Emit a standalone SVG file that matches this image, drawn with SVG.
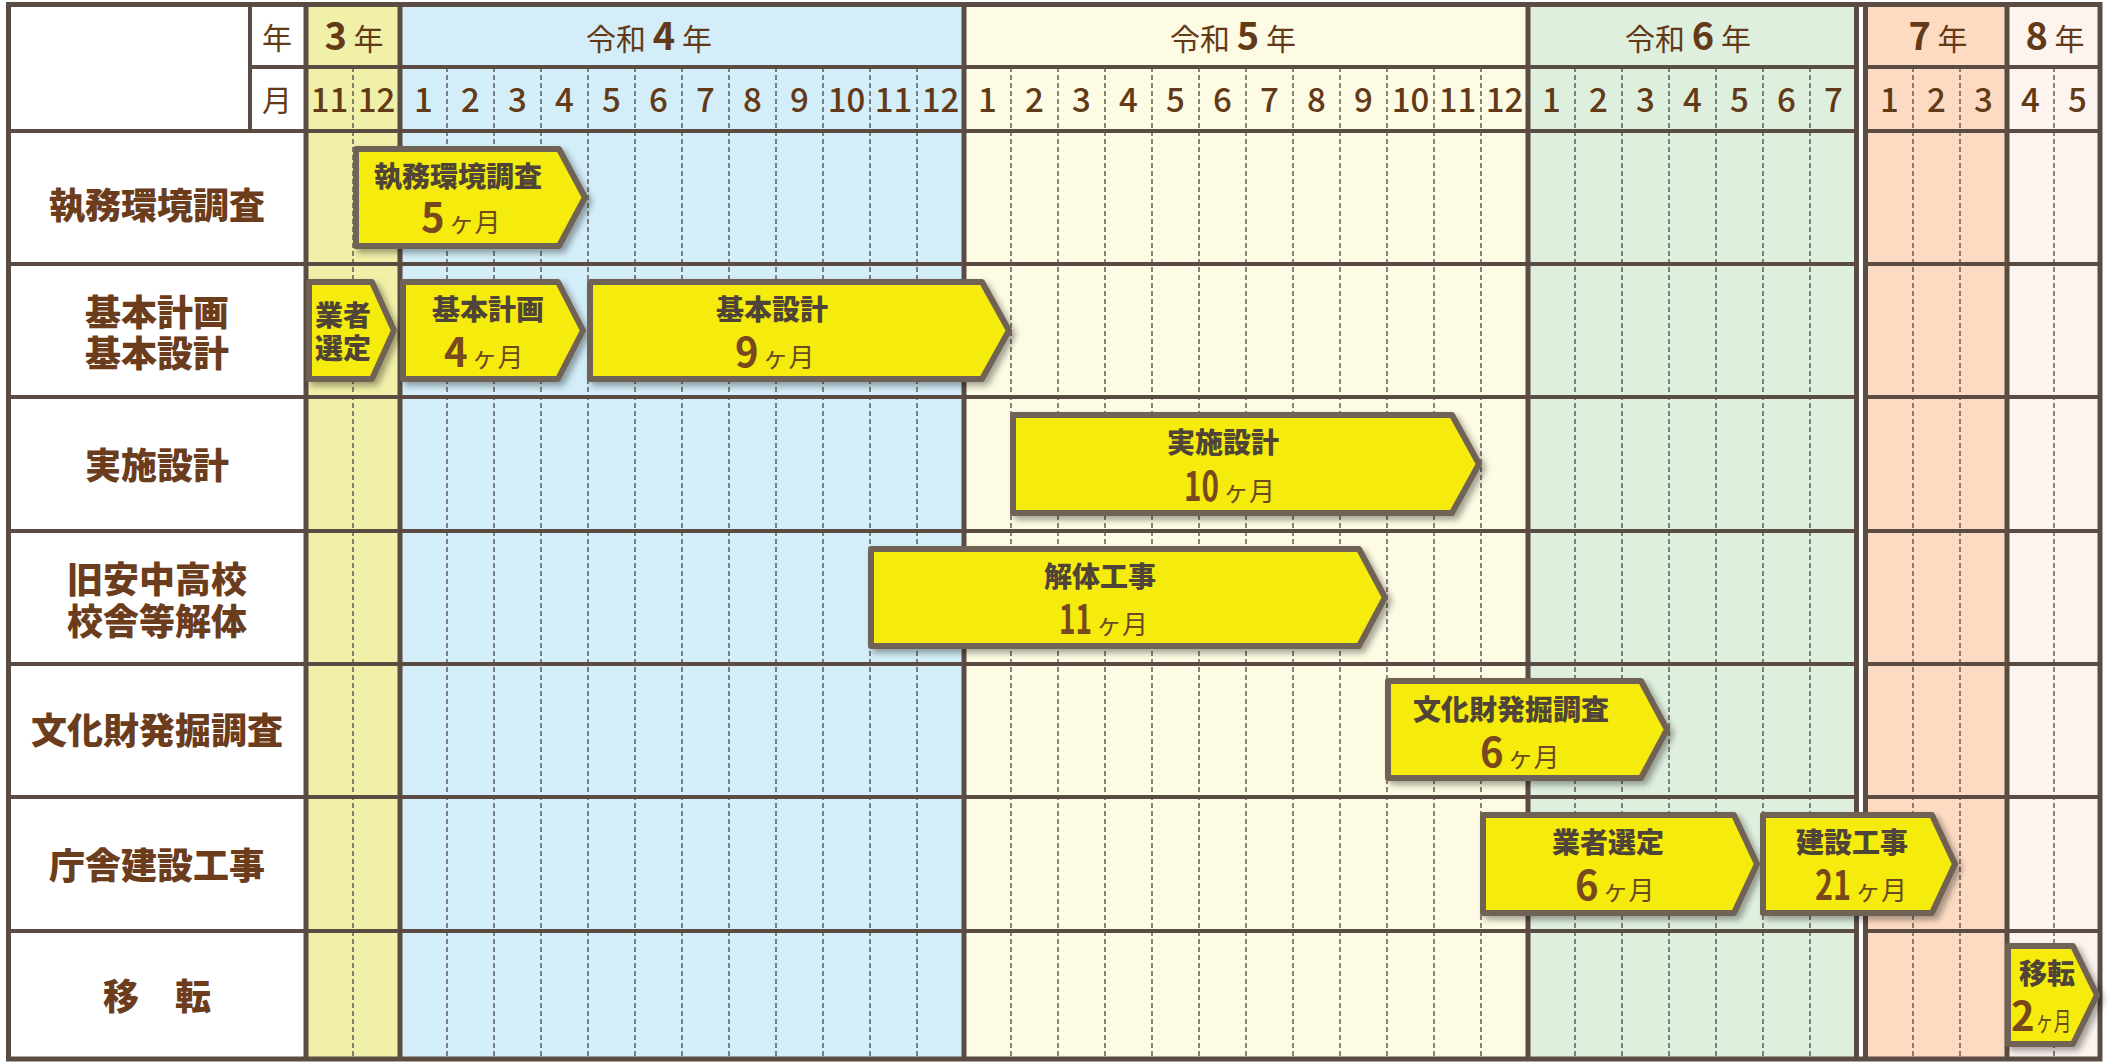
<svg xmlns="http://www.w3.org/2000/svg" width="2111" height="1064" viewBox="0 0 2111 1064">
<defs>
<style>
.ln{stroke:#5b4c43;fill:none}
.thick{stroke-width:5}
.row{stroke-width:4}
.dash{stroke:#57514e;stroke-width:1.4;stroke-dasharray:5 3;fill:none}
text{font-family:"Noto Sans CJK JP","Noto Sans",sans-serif}
.hd{font-size:30px;fill:#633a18;font-weight:400}
.yn{font-size:38px;font-weight:700}
.mo{font-size:33px;fill:#633a18;text-anchor:middle;font-weight:500}
.lab{font-size:36px;font-weight:900;fill:#6b3d1c;text-anchor:middle}
.bar{fill:#f5eb0b;stroke:#6f6354;stroke-width:6;stroke-linejoin:round;filter:url(#sh)}
.bt{font-size:28px;font-weight:900;fill:#4f4437;text-anchor:middle}
.bn{font-size:40px;font-weight:700;fill:#7a481d}
.bu{font-size:26px;font-weight:400;fill:#6b4a22}
</style>
<filter id="sh" x="-10%" y="-20%" width="130%" height="150%">
<feDropShadow dx="4" dy="4" stdDeviation="3" flood-color="#000" flood-opacity="0.35"/>
</filter>
</defs>

<g id="background">
<rect x="0" y="0" width="2111" height="1064" fill="#ffffff"/>
<rect x="306" y="5" width="94" height="1054" fill="#f1f0a9"/>
<rect x="400" y="5" width="564" height="1054" fill="#d3eef9"/>
<rect x="964" y="5" width="564" height="1054" fill="#fefbe4"/>
<rect x="1528" y="5" width="329" height="1054" fill="#dfefde"/>
<rect x="1866" y="5" width="141" height="1054" fill="#fddbc3"/>
<rect x="2007" y="5" width="93" height="1054" fill="#fdf4ef"/>
</g>

<g id="grid">
<g class="dash">
<path d="M353 67V1058M447 67V1058M494 67V1058M541 67V1058M588 67V1058M635 67V1058M682 67V1058M729 67V1058M776 67V1058M823 67V1058M870 67V1058M917 67V1058"/>
<path d="M1011 67V1058M1058 67V1058M1105 67V1058M1152 67V1058M1199 67V1058M1246 67V1058M1293 67V1058M1340 67V1058M1387 67V1058M1434 67V1058M1481 67V1058"/>
<path d="M1575 67V1058M1622 67V1058M1669 67V1058M1716 67V1058M1763 67V1058M1810 67V1058M1913 67V1058M1960 67V1058M2054 67V1058"/>
</g>
<path class="ln row" d="M250 67H2100M8 131H2100M8 264H2100M8 397H2100M8 531H2100M8 664H2100M8 797H2100M8 931H2100"/>
<path class="ln row" d="M250 5V131"/>
<rect x="1859" y="5" width="4.5" height="1054" fill="#ffffff"/>
<path class="ln thick" d="M306 5V1059M400 5V1059M964 5V1059M1528 5V1059M1856.5 5V1059M1865.5 5V1059M2007 5V1059"/>
<rect class="ln thick" x="8.5" y="4.5" width="2091.5" height="1054.5"/>
</g>

<g id="header">
<text class="hd" x="277" y="49" text-anchor="middle">年</text>
<text class="hd" x="277" y="111" text-anchor="middle">月</text>
<text class="hd" x="354" y="50" text-anchor="middle"><tspan class="yn">3</tspan> 年</text>
<text class="hd" x="649" y="50" text-anchor="middle">令和 <tspan class="yn">4</tspan> 年</text>
<text class="hd" x="1233" y="50" text-anchor="middle">令和 <tspan class="yn">5</tspan> 年</text>
<text class="hd" x="1688" y="50" text-anchor="middle">令和 <tspan class="yn">6</tspan> 年</text>
<text class="hd" x="1938" y="50" text-anchor="middle"><tspan class="yn">7</tspan> 年</text>
<text class="hd" x="2055" y="50" text-anchor="middle"><tspan class="yn">8</tspan> 年</text>
<g id="months">
<text class="mo" x="329.5" y="112">11</text>
<text class="mo" x="376.5" y="112">12</text>
<text class="mo" x="423.5" y="112">1</text>
<text class="mo" x="470.5" y="112">2</text>
<text class="mo" x="517.5" y="112">3</text>
<text class="mo" x="564.5" y="112">4</text>
<text class="mo" x="611.5" y="112">5</text>
<text class="mo" x="658.5" y="112">6</text>
<text class="mo" x="705.5" y="112">7</text>
<text class="mo" x="752.5" y="112">8</text>
<text class="mo" x="799.5" y="112">9</text>
<text class="mo" x="846.5" y="112">10</text>
<text class="mo" x="893.5" y="112">11</text>
<text class="mo" x="940.5" y="112">12</text>
<text class="mo" x="987.5" y="112">1</text>
<text class="mo" x="1034.5" y="112">2</text>
<text class="mo" x="1081.5" y="112">3</text>
<text class="mo" x="1128.5" y="112">4</text>
<text class="mo" x="1175.5" y="112">5</text>
<text class="mo" x="1222.5" y="112">6</text>
<text class="mo" x="1269.5" y="112">7</text>
<text class="mo" x="1316.5" y="112">8</text>
<text class="mo" x="1363.5" y="112">9</text>
<text class="mo" x="1410.5" y="112">10</text>
<text class="mo" x="1457.5" y="112">11</text>
<text class="mo" x="1504.5" y="112">12</text>
<text class="mo" x="1551.5" y="112">1</text>
<text class="mo" x="1598.5" y="112">2</text>
<text class="mo" x="1645.5" y="112">3</text>
<text class="mo" x="1692.5" y="112">4</text>
<text class="mo" x="1739.5" y="112">5</text>
<text class="mo" x="1786.5" y="112">6</text>
<text class="mo" x="1833.5" y="112">7</text>
<text class="mo" x="1889.5" y="112">1</text>
<text class="mo" x="1936.5" y="112">2</text>
<text class="mo" x="1983.5" y="112">3</text>
<text class="mo" x="2030.5" y="112">4</text>
<text class="mo" x="2077.5" y="112">5</text>
</g>
</g>

<g id="labels">
<g id="label-shitsumu"><text class="lab" x="157" y="219">執務環境調査</text></g>
<g id="label-kihon"><text class="lab" x="157" y="326">基本計画<tspan x="157" dy="41">基本設計</tspan></text></g>
<g id="label-jisshi"><text class="lab" x="157" y="479">実施設計</text></g>
<g id="label-kaitai"><text class="lab" x="157" y="593">旧安中高校<tspan x="157" dy="42">校舎等解体</tspan></text></g>
<g id="label-bunkazai"><text class="lab" x="157" y="744">文化財発掘調査</text></g>
<g id="label-chosha"><text class="lab" x="157" y="879">庁舎建設工事</text></g>
<g id="label-iten"><text class="lab" x="157" y="1010">移　転</text></g>
</g>

<g id="bars">
<g id="bar-shitsumu">
<polygon class="bar" points="356,149 559,149 585,197.5 559,246 356,246"/>
<text class="bt" x="458" y="187">執務環境調査</text>
<text x="421" y="232"><tspan class="bn">5</tspan><tspan class="bu" dx="4">ヶ月</tspan></text>
</g>
<g id="bar-gyosha1">
<polygon class="bar" points="309,282 372,282 394,330.5 372,379 309,379"/>
<text class="bt" x="343" y="326">業者<tspan x="343" dy="33">選定</tspan></text>
</g>
<g id="bar-kihonkeikaku">
<polygon class="bar" points="403,282 558,282 583,330.5 558,379 403,379"/>
<text class="bt" x="488" y="320">基本計画</text>
<text x="444" y="367"><tspan class="bn">4</tspan><tspan class="bu" dx="4">ヶ月</tspan></text>
</g>
<g id="bar-kihonsekkei">
<polygon class="bar" points="590,282 982,282 1009,330.5 982,379 590,379"/>
<text class="bt" x="772" y="320">基本設計</text>
<text x="735" y="367"><tspan class="bn">9</tspan><tspan class="bu" dx="4">ヶ月</tspan></text>
</g>
<g id="bar-jisshi">
<polygon class="bar" points="1013,415 1452,415 1479,464 1452,513 1013,513"/>
<text class="bt" x="1223" y="453">実施設計</text>
<text x="1184" y="501"><tspan class="bn" textLength="35" lengthAdjust="spacingAndGlyphs">10</tspan><tspan class="bu" dx="4">ヶ月</tspan></text>
</g>
<g id="bar-kaitai">
<polygon class="bar" points="871,549 1359,549 1385,597.5 1359,646 871,646"/>
<text class="bt" x="1100" y="587">解体工事</text>
<text x="1059" y="634"><tspan class="bn" textLength="33" lengthAdjust="spacingAndGlyphs">11</tspan><tspan class="bu" dx="4">ヶ月</tspan></text>
</g>
<g id="bar-bunkazai">
<polygon class="bar" points="1388,681 1641,681 1667,729.5 1641,778 1388,778"/>
<text class="bt" x="1511" y="720">文化財発掘調査</text>
<text x="1480" y="767"><tspan class="bn">6</tspan><tspan class="bu" dx="4">ヶ月</tspan></text>
</g>
<g id="bar-gyosha2">
<polygon class="bar" points="1483,815 1734,815 1757,864 1734,913 1483,913"/>
<text class="bt" x="1608" y="853">業者選定</text>
<text x="1575" y="900"><tspan class="bn">6</tspan><tspan class="bu" dx="4">ヶ月</tspan></text>
</g>
<g id="bar-kensetsu">
<polygon class="bar" points="1763,815 1932,815 1955,864 1932,913 1763,913"/>
<text class="bt" x="1852" y="853">建設工事</text>
<text x="1815" y="900"><tspan class="bn" textLength="36" lengthAdjust="spacingAndGlyphs">21</tspan><tspan class="bu" dx="4">ヶ月</tspan></text>
</g>
<g id="bar-iten">
<polygon class="bar" points="2008,946 2073,946 2097,995 2073,1044 2008,1044"/>
<text class="bt" x="2047" y="984">移転</text>
<text x="2011" y="1031"><tspan class="bn">2</tspan><tspan class="bu" dx="1" textLength="36" lengthAdjust="spacingAndGlyphs">ヶ月</tspan></text>
</g>
</g>
</svg>
